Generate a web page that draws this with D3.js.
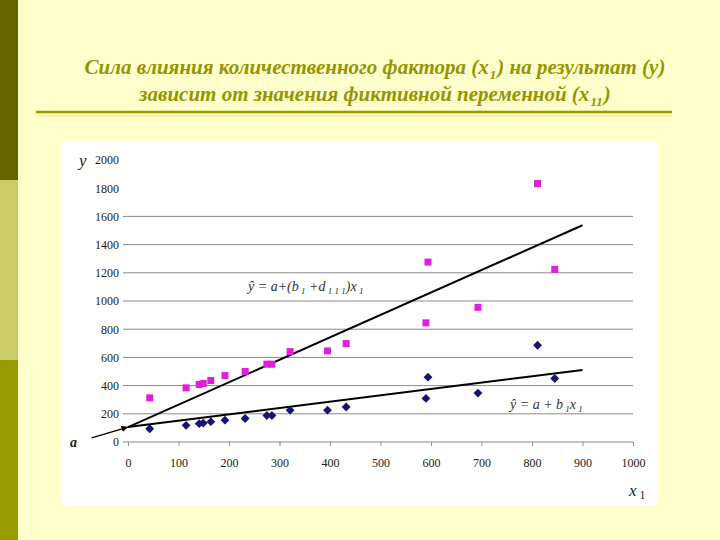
<!DOCTYPE html>
<html>
<head>
<meta charset="utf-8">
<script src="https://cdn.jsdelivr.net/npm/d3@7"></script>
<style>
  body { margin: 0; background: #ffffcc; }
  svg { display: block; }
  svg text { font-family: "Liberation Serif", "DejaVu Serif", serif; }
</style>
</head>
<body>
<div id="chart"></div>
<script>
  // x1 values shared by both series
  var xVals = [43, 115, 141, 149, 164, 192, 232, 275, 285, 321, 395, 432, 590, 594, 693, 811, 845];
  // y when the dummy variable is 1 (pink squares)
  var yPink = [313, 384, 408, 415, 436, 471, 500, 552, 552, 641, 646, 698, 845, 1276, 955, 1833, 1224];
  // y when the dummy variable is 0 (navy diamonds)
  var yNavy = [94, 118, 130, 134, 144, 155, 167, 188, 188, 226, 226, 248, 309, 460, 347, 686, 450];

  var lineX = [0, 900],
    lineUpper = [106, 1537],
    lineLower = [106, 511];

  var xTicks = [0, 100, 200, 300, 400, 500, 600, 700, 800, 900, 1000],
    yTicks = [0, 200, 400, 600, 800, 1000, 1200, 1400, 1600, 1800, 2000],
    gridTicks = [200, 400, 600, 800, 1000, 1200, 1400, 1600];

  // arrow from label "a" to the intercept
  var arrowPts = [[-72, 30], [0, 106]];

  var width = 720,
    height = 540,
    serif = '"Liberation Serif", "DejaVu Serif", serif';

  var svg = d3.select('#chart')
    .append('svg')
    .attr('width', width)
    .attr('height', height);

  svg.append('rect')
    .attr('width', width)
    .attr('height', height)
    .style('fill', '#ffffcc');

  // left stripes
  var stripes = ['#666600', '#cccc66', '#999900'];
  svg.selectAll('.stripe')
    .data(stripes)
    .enter()
    .append('rect')
    .attr('class', 'stripe')
    .attr('x', 0)
    .attr('y', function(d, i){ return i * 180; })
    .attr('width', 18)
    .attr('height', 180)
    .style('fill', function(d){ return d; });

  // title
  var titleColor = '#959500';
  svg.append('text')
    .attr('x', 375)
    .attr('y', 74)
    .attr('text-anchor', 'middle')
    .style('font-family', serif)
    .style('font-style', 'italic')
    .style('font-weight', 'bold')
    .style('font-size', '21px')
    .style('fill', titleColor)
    .html('Сила влияния количественного фактора (x<tspan dx="1" dy="5" font-size="13">1</tspan><tspan dx="1" dy="-5">) на результат (y)</tspan>');

  svg.append('text')
    .attr('x', 375)
    .attr('y', 101)
    .attr('text-anchor', 'middle')
    .style('font-family', serif)
    .style('font-style', 'italic')
    .style('font-weight', 'bold')
    .style('font-size', '21px')
    .style('fill', titleColor)
    .html('зависит от значения фиктивной переменной (x<tspan dx="1" dy="5" font-size="13">11</tspan><tspan dx="1" dy="-5">)</tspan>');

  svg.append('line')
    .attr('x1', 36)
    .attr('x2', 672)
    .attr('y1', 112)
    .attr('y2', 112)
    .style('stroke', '#999900')
    .style('stroke-width', 2.5);

  svg.append('line')
    .attr('x1', 36)
    .attr('x2', 672)
    .attr('y1', 116)
    .attr('y2', 116)
    .style('stroke', '#f0f0b0')
    .style('stroke-width', 1.5);

  // plot panel
  svg.append('rect')
    .attr('x', 62)
    .attr('y', 141)
    .attr('width', 596)
    .attr('height', 364)
    .attr('rx', 3)
    .style('fill', '#ffffff');

  var x = d3.scaleLinear().domain([0, 1000]).range([128, 633]);
  var y = d3.scaleLinear().domain([0, 2000]).range([442, 160]);

  // grid lines
  svg.selectAll('.grid')
    .data(gridTicks)
    .enter()
    .append('line')
    .attr('class', 'grid')
    .attr('x1', x(0) - 5)
    .attr('x2', x(1000))
    .attr('y1', function(d){ return y(d); })
    .attr('y2', function(d){ return y(d); })
    .style('stroke', '#8a8a8a')
    .style('stroke-width', 1);

  // x axis
  var xAxis = svg.append('g')
    .attr('transform', 'translate(0,' + y(0) + ')')
    .call(d3.axisBottom(x).tickValues(xTicks).tickSize(4).tickPadding(12).tickFormat(d3.format('d')));
  xAxis.attr('font-family', null);
  xAxis.select('.domain').style('stroke', '#8a8a8a').attr('d', 'M' + (x(0) - 5) + ',0H' + x(1000));
  xAxis.selectAll('.tick line').style('stroke', '#8a8a8a');
  xAxis.selectAll('text')
    .style('font-family', serif)
    .style('font-size', '12px')
    .style('fill', '#222');

  // y axis labels only
  var yAxis = svg.append('g')
    .attr('transform', 'translate(' + (x(0) - 6) + ',0)')
    .call(d3.axisLeft(y).tickValues(yTicks).tickSize(0).tickPadding(3).tickFormat(d3.format('d')));
  yAxis.attr('font-family', null);
  yAxis.select('.domain').remove();
  yAxis.selectAll('text')
    .style('font-family', serif)
    .style('font-size', '12px')
    .style('fill', '#222');

  // regression lines
  var upper = lineX.map(function(d, i){ return [d, lineUpper[i]]; });
  var lower = lineX.map(function(d, i){ return [d, lineLower[i]]; });
  var line = d3.line()
    .x(function(d){ return x(d[0]); })
    .y(function(d){ return y(d[1]); });

  svg.append('path')
    .attr('d', line(upper))
    .style('fill', 'none')
    .style('stroke', '#000')
    .style('stroke-width', 2);

  svg.append('path')
    .attr('d', line(lower))
    .style('fill', 'none')
    .style('stroke', '#000')
    .style('stroke-width', 2);

  // arrow to intercept
  svg.append('defs')
    .append('marker')
    .attr('id', 'arr')
    .attr('viewBox', '0 0 10 10')
    .attr('refX', 10)
    .attr('refY', 5)
    .attr('markerWidth', 5)
    .attr('markerHeight', 5)
    .attr('orient', 'auto')
    .append('path')
    .attr('d', 'M0,0L10,5L0,10z')
    .style('fill', '#000');

  svg.append('path')
    .attr('d', line(arrowPts))
    .attr('marker-end', 'url(#arr)')
    .style('fill', 'none')
    .style('stroke', '#000')
    .style('stroke-width', 1.3);

  // pink squares
  svg.selectAll('.pink')
    .data(xVals)
    .enter()
    .append('rect')
    .attr('class', 'pink')
    .attr('x', function(d){ return x(d) - 3.5; })
    .attr('y', function(d, i){ return y(yPink[i]) - 3.5; })
    .attr('width', 7)
    .attr('height', 7)
    .style('fill', '#e020d8');

  // navy diamonds
  var diamond = d3.symbol().type(d3.symbolDiamond2).size(50);
  svg.selectAll('.navy')
    .data(xVals)
    .enter()
    .append('path')
    .attr('class', 'navy')
    .attr('d', diamond)
    .attr('transform', function(d, i){ return 'translate(' + x(d) + ',' + y(yNavy[i]) + ')'; })
    .style('fill', '#141470');

  // equations
  var eqStyle = function(sel){
    return sel.style('font-family', serif)
      .style('font-style', 'italic')
      .style('font-size', '14px')
      .style('fill', '#333');
  };

  eqStyle(svg.append('text')
    .attr('x', 248)
    .attr('y', 291))
    .html('ŷ = a+(b<tspan dy="3" font-size="9"> 1</tspan><tspan dy="-3"> +d</tspan><tspan dy="3" font-size="9"> 1 1 1</tspan><tspan dy="-3">)x</tspan><tspan dy="3" font-size="9"> 1</tspan>');

  eqStyle(svg.append('text')
    .attr('x', 510)
    .attr('y', 409))
    .html('ŷ = a + b<tspan dy="3" font-size="9"> 1</tspan><tspan dy="-3">x</tspan><tspan dy="3" font-size="9"> 1</tspan>');

  // axis titles
  svg.append('text')
    .attr('x', 79)
    .attr('y', 166)
    .style('font-family', serif)
    .style('font-style', 'italic')
    .style('font-size', '17px')
    .style('fill', '#222')
    .text('y');

  svg.append('text')
    .attr('x', 629)
    .attr('y', 496)
    .style('font-family', serif)
    .style('font-style', 'italic')
    .style('font-size', '17px')
    .style('fill', '#222')
    .html('x<tspan dy="3" font-size="12" font-style="normal"> 1</tspan>');

  svg.append('text')
    .attr('x', 70)
    .attr('y', 447)
    .style('font-family', serif)
    .style('font-style', 'italic')
    .style('font-weight', 'bold')
    .style('font-size', '14px')
    .style('fill', '#222')
    .text('a');
</script>
</body>
</html>
